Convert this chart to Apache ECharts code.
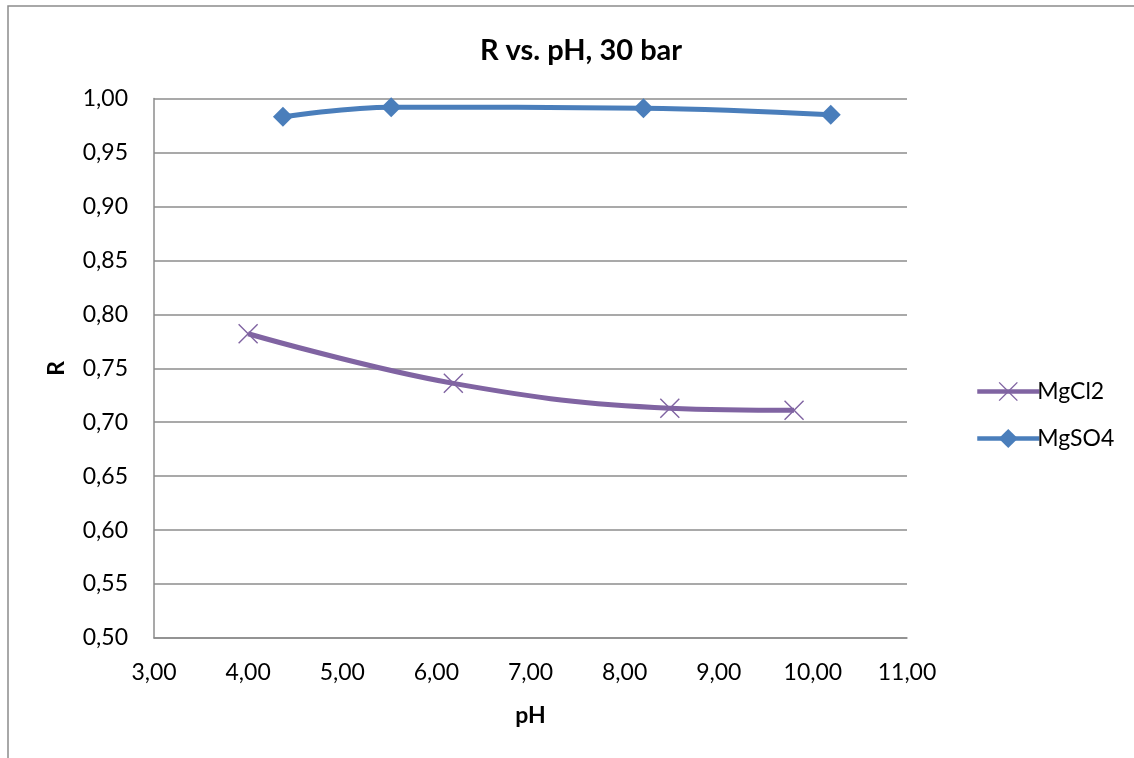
<!DOCTYPE html>
<html>
<head>
<meta charset="utf-8">
<script src="https://cdn.jsdelivr.net/npm/echarts@6/dist/echarts.min.js"></script>
<style>html,body{margin:0;padding:0;background:#fff;}#c{width:1134px;height:758px;}</style>
</head>
<body>
<div id="c"></div>
<script>
const titleText = 'R vs. pH, 30 bar';
const xName = 'pH';
const yName = 'R';
const mgcl2PH = [4.00, 6.18, 8.48, 9.80];
const mgcl2R = [0.782, 0.736, 0.713, 0.711];
const mgso4PH = [4.37, 5.52, 8.20, 10.19];
const mgso4R = [0.983, 0.992, 0.991, 0.985];

const fmt = v => v.toFixed(2).replace('.', ',');
const font = 'Lato, "Open Sans", sans-serif';
const xPath = 'path://M0,0.5 L0.5,0 L5,4.5 L9.5,0 L10,0.5 L5.5,5 L10,9.5 L9.5,10 L5,5.5 L0.5,10 L0,9.5 L4.5,5 Z';
const cCl = '#8064A2';
const cSO = '#4A7EBB';

const chart = echarts.init(document.getElementById('c'));
chart.setOption({
  animation: false,
  backgroundColor: '#fff',
  textStyle: { fontFamily: font },
  title: {
    text: titleText, left: 576, top: 31, textAlign: 'center',
    textStyle: { fontSize: 29, fontWeight: 'bold', color: '#000', fontFamily: font }
  },
  graphic: [{
    type: 'rect', shape: { x: 8, y: 6, width: 1200, height: 900 },
    style: { fill: 'none', stroke: '#8c8c8c', lineWidth: 1.5 }, silent: true
  }],
  grid: { left: 154, right: 227, top: 98.5, bottom: 120 },
  legend: {
    orient: 'vertical', left: 970, top: 375, itemGap: 24,
    itemWidth: 62, itemHeight: 24,
    textStyle: { fontSize: 23, color: '#000', fontFamily: font, padding: [0, 0, 0, -7] },
    data: [
      { name: 'MgCl2', lineStyle: { width: 4.5, color: cCl } },
      { name: 'MgSO4', lineStyle: { width: 4.5, color: cSO } }
    ]
  },
  xAxis: {
    type: 'value', min: 3, max: 11, interval: 1,
    name: xName, nameLocation: 'middle', nameGap: 66,
    nameTextStyle: { fontSize: 23, fontWeight: 'bold', color: '#000' },
    axisLine: { show: true, lineStyle: { color: '#8c8c8c', width: 1.5 } },
    axisTick: { show: false },
    splitLine: { show: false },
    axisLabel: { formatter: fmt, fontSize: 23, color: '#000', margin: 23 }
  },
  yAxis: {
    type: 'value', min: 0.5, max: 1.0, interval: 0.05,
    name: yName, nameLocation: 'middle', nameGap: 86,
    nameTextStyle: { fontSize: 23, fontWeight: 'bold', color: '#000' },
    axisLine: { show: true, lineStyle: { color: '#8c8c8c', width: 1.5 } },
    axisTick: { show: false },
    splitLine: { show: true, lineStyle: { color: '#8c8c8c', width: 1.5 } },
    axisLabel: { formatter: fmt, fontSize: 23, color: '#000', margin: 26 }
  },
  series: [
    {
      name: 'MgCl2', type: 'line', smooth: 0.4,
      data: mgcl2PH.map((x, i) => [x, mgcl2R[i]]),
      symbol: xPath, symbolSize: 20,
      lineStyle: { color: cCl, width: 5 },
      itemStyle: { color: cCl }
    },
    {
      name: 'MgSO4', type: 'line', smooth: 0.4,
      data: mgso4PH.map((x, i) => [x, mgso4R[i]]),
      symbol: 'diamond', symbolSize: 20,
      lineStyle: { color: cSO, width: 5 },
      itemStyle: { color: cSO }
    }
  ]
});
</script>
</body>
</html>
